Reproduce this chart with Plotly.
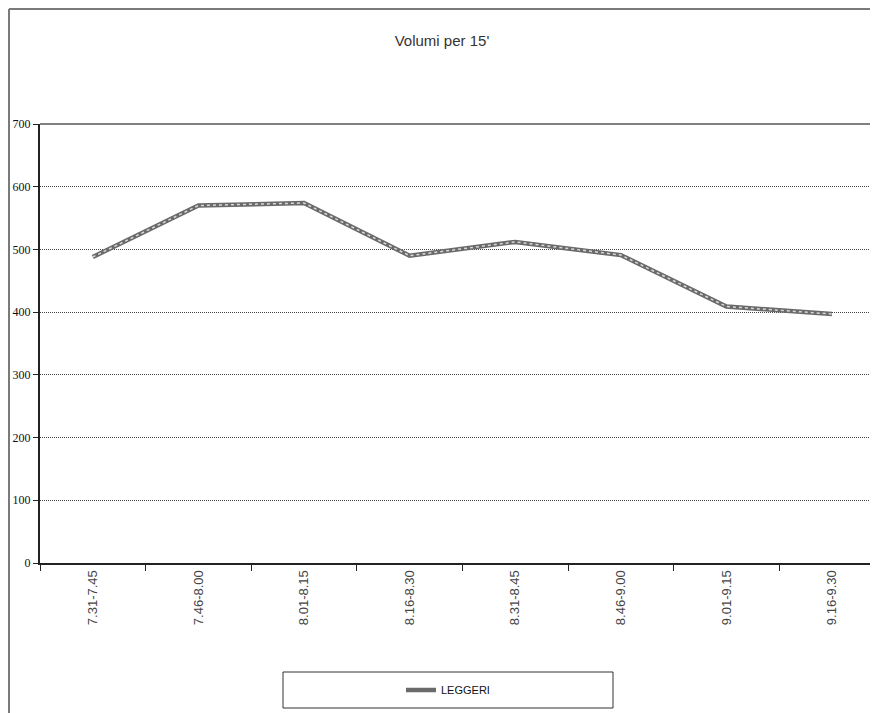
import plotly.graph_objects as go

categories = ["7.31-7.45", "7.46-8.00", "8.01-8.15", "8.16-8.30",
              "8.31-8.45", "8.46-9.00", "9.01-9.15", "9.16-9.30"]
leggeri = [488, 570, 574, 490, 512, 491, 409, 397]
y_ticks = [0, 100, 200, 300, 400, 500, 600, 700]

OFF = 8  # page body margin offset
W, H = 878 - OFF, 713 - OFF
L, R, T = 40 - OFF, 0, 124 - OFF
B = H - (563 - OFF)
pw, ph = W - L - R, H - T - B
cat_px = 105.6
x_end = -0.5 + pw / cat_px

def px_x(p):  # page px -> paper
    return (p - OFF - L) / pw

def px_y(p):
    return (H - B - (p - OFF)) / ph

fig = go.Figure()
fig.add_trace(go.Scatter(
    x=categories, y=leggeri, mode="lines", name="LEGGERI",
    line=dict(color="#6a6a6a", width=4.5), showlegend=True, legendgroup="a"))
fig.add_trace(go.Scatter(
    x=categories, y=leggeri, mode="lines", name="LEGGERI",
    line=dict(color="#d8d8d8", width=1.5, dash="dot"), showlegend=False,
    legendgroup="a", hoverinfo="skip"))

shapes = [
    # outer chart border (left & top)
    dict(type="line", xref="paper", yref="paper", x0=px_x(9), x1=px_x(9),
         y0=px_y(9), y1=px_y(H + 40), line=dict(color="#7a7a7a", width=2)),
    dict(type="line", xref="paper", yref="paper", x0=px_x(9), x1=1.05,
         y0=px_y(9), y1=px_y(9), line=dict(color="#7a7a7a", width=2)),
    # plot area top border
    dict(type="line", xref="paper", yref="paper", x0=0, x1=1.05,
         y0=1, y1=1, line=dict(color="#808080", width=2)),
    # legend box
    dict(type="rect", xref="paper", yref="paper", x0=px_x(283), x1=px_x(613),
         y0=px_y(672), y1=px_y(708), line=dict(color="#333333", width=1),
         fillcolor="rgba(0,0,0,0)"),
]

fig.update_layout(
    width=W, height=H,
    margin=dict(l=L, r=R, t=T, b=B, autoexpand=False),
    paper_bgcolor="white", plot_bgcolor="white",
    title=dict(text="Volumi per 15'", x=px_x(458), xanchor="center",
               y=1 - (41 - OFF) / H, yanchor="middle",
               font=dict(family="Liberation Sans, Arial", size=15, color="#333333")),
    showlegend=True,
    legend=dict(x=px_x(448), y=px_y(690), xanchor="center", yanchor="middle",
                orientation="h", bgcolor="rgba(0,0,0,0)", borderwidth=0,
                font=dict(family="Liberation Sans, Arial", size=11, color="#111111"),
                itemwidth=30),
    shapes=shapes,
    xaxis=dict(type="category", range=[-0.5, x_end], tickson="boundaries",
               ticks="outside", ticklen=6, tickcolor="#222222",
               showline=True, linecolor="#222222", linewidth=2,
               showgrid=False, tickangle=-90,
               tickfont=dict(family="Liberation Sans, Arial", size=13, color="#444444"),
               fixedrange=True),
    yaxis=dict(range=[0, 700], tickvals=y_ticks, ticktext=[str(v) for v in y_ticks],
               ticks="outside", ticklen=5, tickcolor="#222222",
               showline=True, linecolor="#222222", linewidth=2,
               showgrid=True, gridcolor="#444444", gridwidth=1, griddash="1px,1px",
               zeroline=False,
               tickfont=dict(family="Liberation Serif, Times New Roman", size=12, color="#111111"),
               fixedrange=True),
)

fig.write_html(
    "out.html",
    post_script="document.documentElement.style.overflow='hidden';"
                "document.body.style.overflow='hidden';",
)
